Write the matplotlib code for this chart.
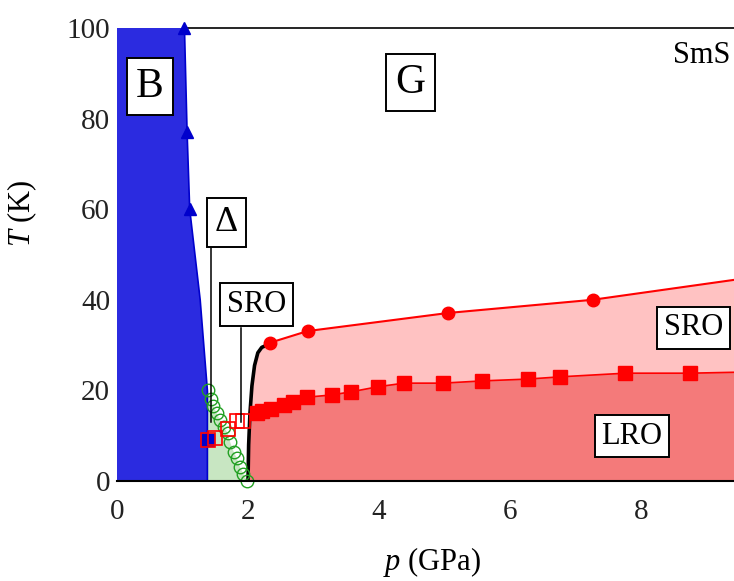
import matplotlib
matplotlib.use("Agg")
import matplotlib.pyplot as plt

plt.rcParams['font.family'] = ['Liberation Serif', 'DejaVu Serif']
plt.rcParams['mathtext.fontset'] = 'custom'
plt.rcParams['mathtext.it'] = 'Liberation Serif:italic'
plt.rcParams['mathtext.rm'] = 'Liberation Serif'

# ---- data (p in GPa, T in K) ----
# blue region boundary (B phase)
blue_bound_p = [1.03, 1.07, 1.11, 1.27, 1.38, 1.38]
blue_bound_T = [100, 77, 60, 40, 20, 0]
blue_tri_p = [1.03, 1.07, 1.11]
blue_tri_T = [100, 77, 60]
blue_sq_p = [1.39]
blue_sq_T = [9.0]

# green open circles (Delta boundary)
green_p = [1.39, 1.43, 1.47, 1.52, 1.57, 1.63, 1.69, 1.73, 1.78, 1.83, 1.88, 1.93, 1.99]
green_T = [20, 18, 16.5, 15, 13.5, 12, 10.5, 8.5, 6.5, 5, 3, 1.5, 0]

# red open squares
open_sq_p = [1.39, 1.50, 1.69, 1.83, 1.92]
open_sq_T = [9.0, 9.5, 11.5, 13.2, 13.2]

# black boundary curve
black_p = [2.00, 2.01, 2.03, 2.06, 2.10, 2.15, 2.21, 2.29]
black_T = [0, 8, 15, 21, 25.5, 28.3, 29.5, 30]

# SRO upper boundary (filled circles)
sro_circ_p = [2.33, 2.91, 5.06, 7.26]
sro_circ_T = [30.5, 33.1, 37.1, 40.0]
sro_line_p = [2.29, 2.33, 2.91, 5.06, 7.26, 9.42]
sro_line_T = [30.0, 30.5, 33.1, 37.1, 40.0, 44.4]

# LRO boundary (filled squares)
lro_p = [2.13, 2.22, 2.35, 2.55, 2.68, 2.90, 3.28, 3.58, 3.98, 4.38, 4.97, 5.58, 6.27, 6.77, 7.76, 8.75]
lro_T = [15.0, 15.5, 16.0, 16.8, 17.4, 18.5, 19.0, 19.7, 20.8, 21.6, 21.6, 22.1, 22.5, 23.0, 23.8, 23.8]
lro_end_p = 9.42
lro_end_T = 24.0

xmax = 9.42
xticks = [0, 2, 4, 6, 8]
yticks = [0, 20, 40, 60, 80, 100]

# ---- figure ----
fig = plt.figure(figsize=(7.34, 5.81), dpi=100)
ax = fig.add_axes([117/734, 1 - 481/581, (734 - 117)/734, 453/581])
ax.set_xlim(0, xmax)
ax.set_ylim(0, 100)

BLUE = '#2b2be0'
RED = '#ff0000'
GREEN = '#22a022'

# blue region
bx = [0, 0] + blue_bound_p
by = [0, 100] + blue_bound_T
ax.fill(bx, by, color=BLUE, lw=0, zorder=1)
ax.plot(blue_bound_p, blue_bound_T, color='#0000cc', lw=1.2, zorder=4)

# green region
gx = [blue_bound_p[-1]] + green_p
gy = [blue_bound_T[-2]] + green_T
ax.fill(gx + [blue_bound_p[-1]], gy + [0], color='#c8e6c2', lw=0, zorder=1)

# SRO region (light red)
sx = black_p + sro_line_p[1:] + [xmax]
sy = black_T + sro_line_T[1:] + [0]
ax.fill(sx, sy, color='#ffc2c2', lw=0, zorder=1)
ax.plot(sro_line_p, sro_line_T, color=RED, lw=1.5, zorder=3)

# LRO region (darker red)
lx = black_p[:3] + lro_p + [lro_end_p, lro_end_p]
ly = black_T[:3] + lro_T + [lro_end_T, 0]
ax.fill(lx, ly, color='#f47a7a', lw=0, zorder=1.5)
ax.plot(lro_p + [lro_end_p], lro_T + [lro_end_T], color=RED, lw=1.2, zorder=3)

# black curve
ax.plot(black_p, black_T, color='black', lw=2.6, zorder=5, solid_capstyle='round')

# markers
ax.plot(blue_tri_p, blue_tri_T, ls='none', marker='^', ms=9, color='#0000cc', zorder=6, clip_on=False)
ax.plot(green_p, green_T, ls='none', marker='o', ms=9, mfc='none', mec=GREEN, mew=1.0, zorder=6, clip_on=False)
ax.plot(blue_sq_p, blue_sq_T, ls='none', marker='s', ms=8, color='#0000cc', zorder=6)
ax.plot(open_sq_p, open_sq_T, ls='none', marker='s', ms=10, mfc='none', mec=RED, mew=1.2, zorder=7)
ax.plot(sro_circ_p, sro_circ_T, ls='none', marker='o', ms=9, color=RED, zorder=6)
ax.plot(lro_p, lro_T, ls='none', marker='s', ms=10.5, color=RED, zorder=6)

# top line (T=100)
ax.hlines(100, blue_tri_p[0], xmax, color='black', lw=1.2, zorder=5, clip_on=False)

# spines / ticks
for s in ['top', 'left', 'right']:
    ax.spines[s].set_visible(False)
ax.spines['bottom'].set_linewidth(1.5)
ax.spines['bottom'].set_zorder(8)
ax.set_xticks(xticks)
ax.set_yticks(yticks)
ax.tick_params(length=0, labelsize=21, colors='#222222')
ax.tick_params(axis='x', pad=13)
ax.tick_params(axis='y', pad=5)
ax.set_xlabel(r'$p$ (GPa)', fontsize=22)
ax.set_ylabel(r'$T$ (K)', fontsize=22)
ax.xaxis.label.set_va('center')
ax.yaxis.label.set_va('center')
ax.xaxis.set_label_coords(0.51, -0.178)
ax.yaxis.set_label_coords(-0.154, 0.59)

box = dict(boxstyle='square,pad=0.22', fc='white', ec='black', lw=1.4)
ax.text(0.50, 87, 'B', fontsize=30, ha='center', va='center', bbox=box, zorder=10)
ax.text(4.48, 88, 'G', fontsize=30, ha='center', va='center', bbox=box, zorder=10)
ax.text(9.37, 94, 'SmS', fontsize=22, ha='right', va='center', zorder=10)
ax.text(1.67, 57, 'Δ', fontsize=26, ha='center', va='center', bbox=box, zorder=10)
ax.text(2.13, 39, 'SRO', fontsize=22, ha='center', va='center', bbox=box, zorder=10)
ax.text(8.80, 33.8, 'SRO', fontsize=22, ha='center', va='center', bbox=box, zorder=10, clip_on=False)
ax.text(7.86, 9.9, 'LRO', fontsize=22, ha='center', va='center', bbox=box, zorder=10)

# pointer lines from labels
ax.plot([1.43, 1.43], [51.5, 13], color='black', lw=1.1, zorder=9)
ax.plot([1.89, 1.89], [33.8, 13], color='black', lw=1.1, zorder=9)

fig.savefig('out.png', dpi=100)
